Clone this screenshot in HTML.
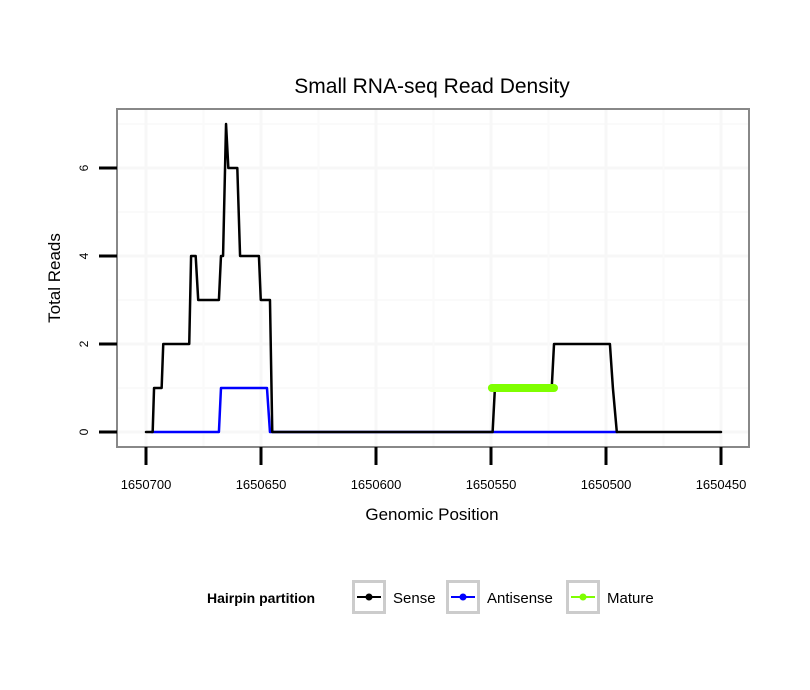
<!DOCTYPE html>
<html><head><meta charset="utf-8"><style>
body{margin:0;background:#fff;}
svg{display:block;font-family:"Liberation Sans",sans-serif;}
</style></head><body>
<svg id="chart" width="810" height="690" viewBox="0 0 810 690">
<rect width="810" height="690" fill="#fff"/>
<text x="432" y="93" text-anchor="middle" font-size="21">Small RNA-seq Read Density</text>
<g id="grid"></g>
<g id="series"></g>
<rect x="117" y="109" width="632" height="338" fill="none" stroke="#888" stroke-width="2"/>
<g id="axes"></g>
<text x="432" y="520" text-anchor="middle" font-size="17">Genomic Position</text>
<text transform="translate(60,278) rotate(-90)" text-anchor="middle" font-size="17">Total Reads</text>
<g>
<text x="207" y="603" font-size="14" font-weight="bold">Hairpin partition</text>
<g>
<rect x="353.5" y="581.5" width="31" height="31" fill="#fff" stroke="#ccc" stroke-width="3"/>
<line x1="357" y1="597" x2="381" y2="597" stroke="#000" stroke-width="2"/><circle cx="369" cy="597" r="3.5" fill="#000"/>
<text x="393" y="603" font-size="15">Sense</text></g>
<g>
<rect x="447.5" y="581.5" width="31" height="31" fill="#fff" stroke="#ccc" stroke-width="3"/>
<line x1="451" y1="597" x2="475" y2="597" stroke="#00f" stroke-width="2"/><circle cx="463" cy="597" r="3.5" fill="#00f"/>
<text x="487" y="603" font-size="15">Antisense</text></g>
<g>
<rect x="567.5" y="581.5" width="31" height="31" fill="#fff" stroke="#ccc" stroke-width="3"/>
<line x1="571" y1="597" x2="595" y2="597" stroke="#7fff00" stroke-width="2"/><circle cx="583" cy="597" r="3.5" fill="#7fff00"/>
<text x="607" y="603" font-size="15">Mature</text></g>
</g>
</svg>
<script>
const xTicks=[1650700,1650650,1650600,1650550,1650500,1650450];
const yTicks=[0,2,4,6];
const sensePos=[1650700,1650697.1,1650696.5,1650693.2,1650692.5,1650681.2,1650680.4,1650678.4,1650677.3,1650668.3,1650667.4,1650666.5,1650665.2,1650664.2,1650660.3,1650659.1,1650650.9,1650650.1,1650646.1,1650645.1,1650549.3,1650548.3,1650523.6,1650522.6,1650498.3,1650497,1650495.3,1650450];
const senseVal=[0,0,1,1,2,2,4,4,3,3,4,4,7,6,6,4,4,3,3,0,0,1,1,2,2,1,0,0];
const antiPos=[1650697.5,1650668.3,1650667.4,1650647.4,1650646.1,1650495.3];
const antiVal=[0,0,1,1,0,0];
const maturePos=[1650549.6,1650522.6];
const matureVal=[1,1];
const NS="http://www.w3.org/2000/svg";
function X(p){return 146+(1650700-p)*2.3;}
function Y(v){return 432-v*44;}
function mk(tag,attrs,parent){const e=document.createElementNS(NS,tag);for(const k in attrs)e.setAttribute(k,attrs[k]);parent.appendChild(e);return e;}
const grid=document.getElementById('grid'),axes=document.getElementById('axes'),series=document.getElementById('series');
mk('rect',{x:117,y:109,width:632,height:338,fill:'#fff'},grid);
for(let v=1;v<=7;v+=2){const l=mk('line',{x1:117,x2:749,y1:Y(v),y2:Y(v),stroke:'#fafafa','stroke-width':2},grid);}
yTicks.forEach(v=>{const l=mk('line',{x1:117,x2:749,y1:Y(v),y2:Y(v),stroke:'#f7f7f7','stroke-width':3},grid);});
for(let i=0;i<xTicks.length-1;i++){const p=(xTicks[i]+xTicks[i+1])/2;const l=mk('line',{y1:109,y2:447,x1:X(p),x2:X(p),stroke:'#fafafa','stroke-width':2},grid);}
xTicks.forEach(p=>{const l=mk('line',{y1:109,y2:447,x1:X(p),x2:X(p),stroke:'#f7f7f7','stroke-width':3},grid);});
function line(pos,val,color,w,name){const pts=pos.map((p,i)=>X(p)+','+Y(val[i])).join(' ');const e=mk('polyline',{points:pts,fill:'none',stroke:color,'stroke-width':w,'stroke-linejoin':'round','stroke-linecap':'round'},series);}
line(antiPos,antiVal,'#00f',2.5,'antisense-line');
line(sensePos,senseVal,'#000',2.5,'sense-line');
line(maturePos,matureVal,'#7fff00',8,'mature-line');
yTicks.forEach(v=>{const l=mk('line',{x1:99,x2:117,y1:Y(v),y2:Y(v),stroke:'#000','stroke-width':3},axes);
const t=mk('text',{transform:`translate(${88},${Y(v)}) rotate(-90)`,'text-anchor':'middle','font-size':12},axes);t.textContent=v;});
xTicks.forEach(p=>{const l=mk('line',{x1:X(p),x2:X(p),y1:447,y2:465,stroke:'#000','stroke-width':3},axes);
const t=mk('text',{x:X(p),y:489,'text-anchor':'middle','font-size':13},axes);t.textContent=p;});
</script>
</body></html>
